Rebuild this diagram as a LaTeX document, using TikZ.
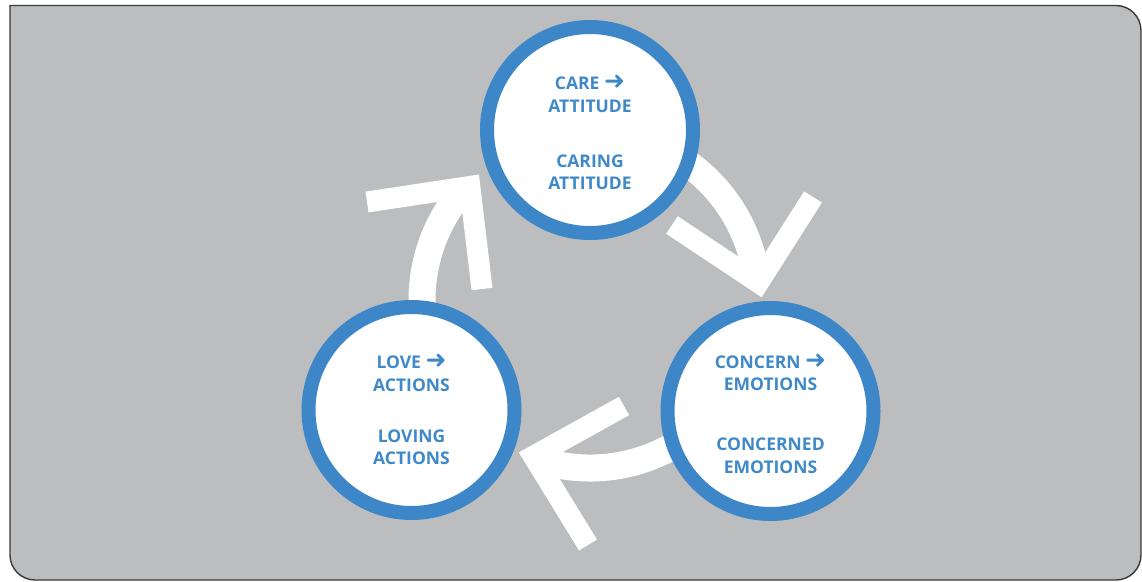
\documentclass[tikz,border=0pt]{standalone}
\usepackage{fontspec}
\setmainfont{Open Sans}
\newfontfamily\symfont{DejaVu Sans}
\definecolor{bggray}{HTML}{BCBDBF}
\definecolor{frame}{HTML}{3A3A3A}
\definecolor{ringblue}{HTML}{3D87C8}
\definecolor{textblue}{HTML}{3F89C9}
\newcommand{\rarr}{{\symfont\bfseries\fontsize{25pt}{22.5pt}\selectfont ➜}}
\tikzset{
  bgframe/.style={draw=frame, line width=1.4pt, fill=bggray},
  band/.style={draw=white, line width=27pt, line cap=butt},
  chevron/.style={draw=white, line width=21pt, line cap=butt, line join=miter, miter limit=10},
  ring/.style={circle, draw=ringblue, line width=14pt, fill=white, minimum size=206pt, inner sep=0pt},
  ringtext/.style={align=center, text=textblue, inner sep=0pt,
    font=\fontsize{17.5pt}{22.5pt}\selectfont\bfseries}
}
\begin{document}
\begin{tikzpicture}[x=1pt,y=-1pt]
\useasboundingbox (0,0) rectangle (1142,581);
\draw[bgframe] (10,300) -- (10,5.5) -- (600,5.5) [rounded corners=25pt] -- (1141,5.5) -- (1141,580) -- (10,580) -- cycle;
\coordinate (O) at (590,300);
% arc bands
\draw[band] ([shift={(170:168)}]O) arc[start angle=170, end angle=219, radius=168];
\draw[band] ([shift={(295:168)}]O) arc[start angle=295, end angle=350, radius=168];
\draw[band] ([shift={(20:168)}]O) arc[start angle=20, end angle=105, radius=168];
% chevrons
\coordinate (la1) at (367,202); \coordinate (lv) at (469.8,186.5); \coordinate (la2) at (482,289);
\coordinate (ra1) at (672,225); \coordinate (rv) at (758.5,282.6); \coordinate (ra2) at (813,197);
\coordinate (ba1) at (624,406); \coordinate (bv) at (533.5,456.3); \coordinate (ba2) at (588,545);
\draw[chevron] (la1) -- (lv) -- (la2);
\draw[chevron] (ra1) -- (rv) -- (ra2);
\draw[chevron] (ba1) -- (bv) -- (ba2);
% circles
\node[ring] (care) at (590,130) {};
\node[ring] (concern) at (770.5,411) {};
\node[ring] (love) at (411.5,410) {};
% texts
\node[ringtext] (caretext) at (590,132.5) {CARE \rarr\\ATTITUDE\\[32.5pt]CARING\\ATTITUDE};
\node[ringtext] (concerntext) at (770.5,413.5) {CONCERN \rarr\\EMOTIONS\\[37.5pt]CONCERNED\\EMOTIONS};
\node[ringtext] (lovetext) at (411.5,409.5) {LOVE \rarr\\ACTIONS\\[28.5pt]LOVING\\ACTIONS};
\end{tikzpicture}
\end{document}
